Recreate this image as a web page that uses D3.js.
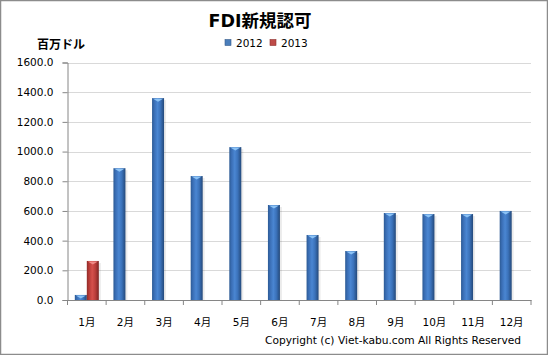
<!DOCTYPE html>
<html><head><meta charset="utf-8">
<script src="https://cdn.jsdelivr.net/npm/d3@7"></script>
<style>
html,body{margin:0;padding:0;background:#fff;}
svg{display:block;}
text{font-family:"DejaVu Sans","Noto Sans CJK JP",sans-serif;}
</style></head>
<body>
<script>
const months = ["1月","2月","3月","4月","5月","6月","7月","8月","9月","10月","11月","12月"];
const values2012 = [34, 888, 1360, 835, 1030, 640, 438, 330, 586, 579, 579, 600];
const values2013 = [263, null, null, null, null, null, null, null, null, null, null, null];
const seriesNames = ["2012", "2013"];
const yTicks = [0, 200, 400, 600, 800, 1000, 1200, 1400, 1600];

const W = 548, H = 355;
const svg = d3.select("body").append("svg").attr("width", W).attr("height", H);
const defs = svg.append("defs");

function hGrad(id, stops){
  const g = defs.append("linearGradient").attr("id", id).attr("x1","0%").attr("x2","100%").attr("y1","0%").attr("y2","0%");
  stops.forEach(s => g.append("stop").attr("offset", s[0]).attr("stop-color", s[1]));
}
hGrad("gBlue", [["0%","#2c5a94"],["18%","#3a6eb5"],["45%","#4a86d2"],["70%","#3b72ba"],["100%","#24497a"]]);
hGrad("gRed", [["0%","#8e2b28"],["18%","#b53a36"],["45%","#d5504b"],["70%","#bc3f3b"],["100%","#7c2422"]]);
const colors = ["url(#gBlue)", "url(#gRed)"];
const capColors = ["#8cc3f5", "#f08a86"];
const legendColors = ["#4a7ebb", "#be4b48"];

// outer border
svg.append("rect").attr("x",0.5).attr("y",0.5).attr("width",W-1).attr("height",H-1)
  .attr("fill","#fff").attr("stroke","#8c8c8c").attr("stroke-width",1.5);

const m = {left: 67.5, right: 531, top: 62.5, bottom: 300};
const x = d3.scaleBand().domain(months).range([m.left, m.right]).paddingInner(0).paddingOuter(0);
const y = d3.scaleLinear().domain([0, 1600]).range([m.bottom, m.top]);
const bw = x.bandwidth();
const barW = 12;
const xs = d3.scaleBand().domain(seriesNames).range([bw/2 - barW, bw/2 + barW]);

// gridlines
svg.append("g").selectAll("line").data(yTicks.filter(d => d > 0)).join("line")
  .attr("x1", m.left).attr("x2", m.right)
  .attr("y1", d => Math.round(y(d)) + 0.5).attr("y2", d => Math.round(y(d)) + 0.5)
  .attr("stroke", "#d9d9d9").attr("stroke-width", 1);

// y axis
const yAxis = svg.append("g").attr("transform", `translate(${m.left},0)`)
  .call(d3.axisLeft(y).tickValues(yTicks).tickFormat(d3.format(".1f")).tickSize(5).tickPadding(9));
yAxis.select(".domain").attr("stroke", "#868686");
yAxis.selectAll(".tick line").attr("stroke", "#868686");
yAxis.selectAll("text").attr("font-size", 10.5).attr("fill", "#000");

// x axis
const xAxis = svg.append("g").attr("transform", `translate(0,${m.bottom})`)
  .call(d3.axisBottom(x).tickSize(0).tickPadding(19));
xAxis.select(".domain").attr("stroke", "#868686");
xAxis.selectAll("text").attr("font-size", 10.5).attr("fill", "#000");
// category boundary ticks
svg.append("g").selectAll("line").data(months.concat(["end"])).join("line")
  .attr("x1", (d,i) => m.left + i*bw).attr("x2", (d,i) => m.left + i*bw)
  .attr("y1", m.bottom).attr("y2", m.bottom + 5)
  .attr("stroke", "#868686");

// bars
const data = [];
months.forEach((mo, i) => {
  [values2012[i], values2013[i]].forEach((v, s) => {
    if (v != null) data.push({mo, s, v});
  });
});
const bars = svg.append("g");
// shadow
bars.selectAll("rect.sh").data(data).join("rect").attr("class","sh")
  .attr("x", d => x(d.mo) + xs(seriesNames[d.s]) + 2)
  .attr("y", d => y(d.v) + 2)
  .attr("width", barW).attr("height", d => y(0) - y(d.v) - 2)
  .attr("fill", "#000").attr("opacity", 0.08);
bars.selectAll("rect.b").data(data).join("rect").attr("class","b")
  .attr("x", d => x(d.mo) + xs(seriesNames[d.s]))
  .attr("y", d => y(d.v))
  .attr("width", barW).attr("height", d => y(0) - y(d.v))
  .attr("fill", d => colors[d.s]);
// top cap bevel
bars.selectAll("path.cap").data(data).join("path").attr("class","cap")
  .attr("d", d => {
    const x0 = x(d.mo) + xs(seriesNames[d.s]), y0 = y(d.v);
    const h = Math.min(3, y(0) - y0);
    return `M${x0+1},${y0+0.5} L${x0+barW-1},${y0+0.5} L${x0+barW/2},${y0+h+0.5} Z`;
  })
  .attr("fill", d => capColors[d.s]);

// title
svg.append("text").attr("x", 260).attr("y", 27).attr("text-anchor", "middle")
  .attr("font-size", 17.5).attr("font-weight", "bold").attr("fill", "#000").text("FDI新規認可");

// unit label
svg.append("text").attr("x", 37).attr("y", 49).attr("font-size", 12).attr("font-weight", "bold")
  .attr("fill", "#000").text("百万ドル");

// legend
const lg = svg.append("g");
const legX = [225, 270];
seriesNames.forEach((n, i) => {
  lg.append("rect").attr("x", legX[i]).attr("y", 39.5).attr("width", 6).attr("height", 6)
    .attr("fill", legendColors[i]).attr("stroke", i ? "#8e3330" : "#385d8a").attr("stroke-width", 0.6);
  lg.append("text").attr("x", legX[i] + 11).attr("y", 47).attr("font-size", 10.5).attr("fill", "#000").text(n);
});

// copyright
svg.append("text").attr("x", 265).attr("y", 344).attr("font-size", 10.5).attr("fill", "#000")
  .attr("textLength", 256).attr("lengthAdjust", "spacingAndGlyphs")
  .text("Copyright (c) Viet-kabu.com  All Rights Reserved");
</script>
</body></html>
